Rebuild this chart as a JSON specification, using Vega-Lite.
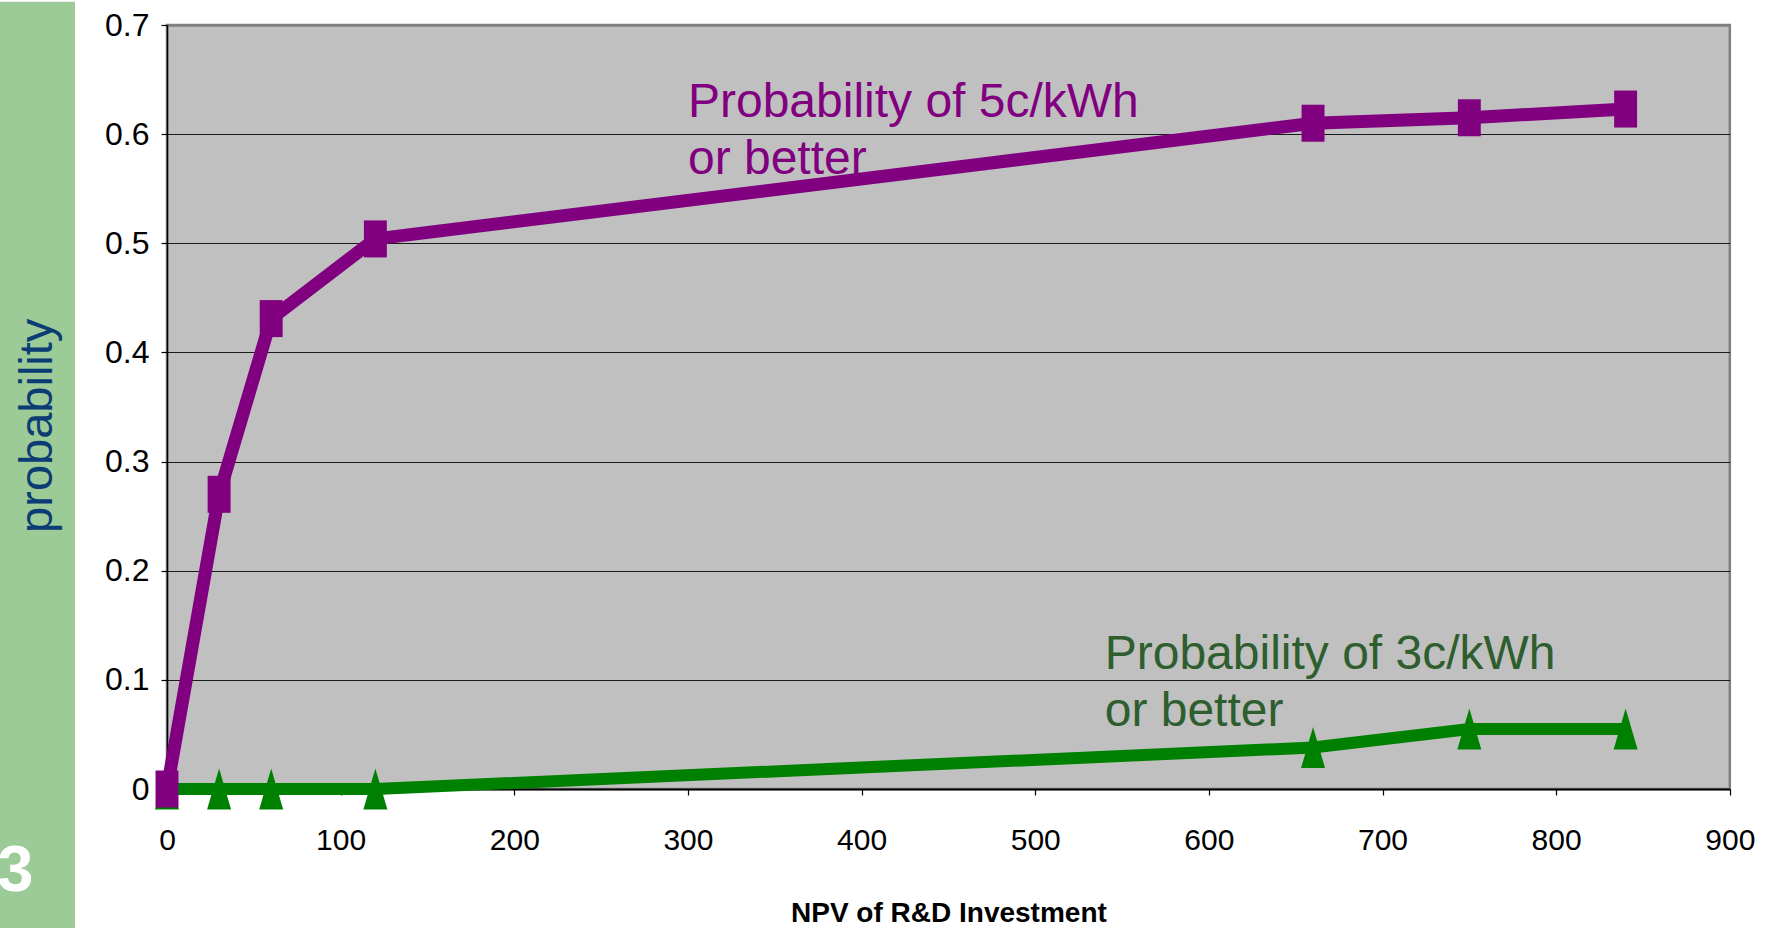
{
  "$schema": "https://vega.github.io/schema/vega-lite/v6.json",
  "background": "white",
  "padding": 0,
  "spacing": 0,
  "resolve": {"scale": {"x": "independent", "y": "independent"}},
  "config": {"view": {"stroke": null}},
  "datasets": {
    "probs": [
      {"npv": 0, "p": 0, "target": "5c"},
      {"npv": 30, "p": 0.27, "target": "5c"},
      {"npv": 60, "p": 0.431, "target": "5c"},
      {"npv": 120, "p": 0.504, "target": "5c"},
      {"npv": 660, "p": 0.61, "target": "5c"},
      {"npv": 750, "p": 0.615, "target": "5c"},
      {"npv": 840, "p": 0.623, "target": "5c"},
      {"npv": 0, "p": 0, "target": "3c"},
      {"npv": 30, "p": 0, "target": "3c"},
      {"npv": 60, "p": 0, "target": "3c"},
      {"npv": 120, "p": 0, "target": "3c"},
      {"npv": 660, "p": 0.038, "target": "3c"},
      {"npv": 750, "p": 0.055, "target": "3c"},
      {"npv": 840, "p": 0.055, "target": "3c"}
    ]
  },
  "hconcat": [
    {
      "width": 75,
      "height": 904.7,
      "view": {"fill": null, "stroke": null},
      "layer": [
        {
          "data": {"values": [{"band": "side"}]},
          "mark": {"type": "rect", "color": "#9CCB98", "clip": false},
          "encoding": {
            "x": {"datum": 0, "type": "quantitative", "scale": {"domain": [0, 1]}, "axis": null},
            "x2": {"datum": 1},
            "y": {"datum": 0, "type": "quantitative", "scale": {"domain": [0, 1]}, "axis": null},
            "y2": {"datum": 1.0258}
          }
        },
        {
          "data": {"values": [{"label": "probability"}]},
          "mark": {"type": "text", "font": "Liberation Sans", "fontSize": 47, "color": "#0B3C73", "angle": 270, "align": "center", "baseline": "alphabetic"},
          "encoding": {
            "x": {"datum": 0.69, "type": "quantitative", "scale": {"domain": [0, 1]}, "axis": null},
            "y": {"datum": 0.557, "type": "quantitative", "scale": {"domain": [0, 1]}, "axis": null},
            "text": {"field": "label"}
          }
        },
        {
          "data": {"values": [{"label": "3"}]},
          "mark": {"type": "text", "font": "Liberation Sans", "fontSize": 65, "fontWeight": "bold", "color": "white", "align": "right", "baseline": "alphabetic", "clip": true},
          "encoding": {
            "x": {"datum": 0.447, "type": "quantitative", "scale": {"domain": [0, 1]}, "axis": null},
            "y": {"datum": 0.0431, "type": "quantitative", "scale": {"domain": [0, 1]}, "axis": null},
            "text": {"field": "label"}
          }
        }
      ]
    },
    {
      "width": 1562.8,
      "height": 764,
      "view": {"fill": "#C0C0C0", "stroke": "#808080", "strokeWidth": 2.5},
      "data": {"name": "probs"},
      "resolve": {"axis": {"x": "independent", "y": "independent"}},
      "layer": [
        {
          "data": {"values": [{"label": "Probability of 5c/kWh\nor better"}]},
          "mark": {"type": "text", "font": "Liberation Sans", "fontSize": 48, "color": "#800080", "align": "left", "baseline": "alphabetic", "lineBreak": "\n", "lineHeight": 57},
          "encoding": {
            "x": {"datum": 300, "type": "quantitative", "scale": {"domain": [0, 900], "nice": false}, "axis": null},
            "y": {"datum": 0.616, "type": "quantitative", "scale": {"domain": [0, 0.7], "nice": false}, "axis": null},
            "text": {"field": "label"}
          }
        },
        {
          "data": {"values": [{"label": "Probability of 3c/kWh\nor better"}]},
          "mark": {"type": "text", "font": "Liberation Sans", "fontSize": 48, "color": "#2E5E2E", "align": "left", "baseline": "alphabetic", "lineBreak": "\n", "lineHeight": 57},
          "encoding": {
            "x": {"datum": 540, "type": "quantitative", "scale": {"domain": [0, 900], "nice": false}, "axis": null},
            "y": {"datum": 0.11, "type": "quantitative", "scale": {"domain": [0, 0.7], "nice": false}, "axis": null},
            "text": {"field": "label"}
          }
        },
        {
          "transform": [{"filter": "datum.target === '3c'"}],
          "mark": {"type": "line", "color": "#008000", "strokeWidth": 12},
          "encoding": {
            "x": {
              "field": "npv", "type": "quantitative",
              "scale": {"domain": [0, 900], "nice": false},
              "axis": {
                "orient": "bottom",
                "values": [0, 100, 200, 300, 400, 500, 600, 700, 800, 900],
                "format": "d",
                "grid": false,
                "domainColor": "#000000", "domainWidth": 2,
                "tickColor": "#000000", "tickSize": 6, "tickWidth": 1.2,
                "labelFont": "Liberation Sans",
                "labelFontSize": 30, "labelColor": "#000000", "labelPadding": 30,
                "labelFlush": false, "labelOverlap": false,
                "title": "NPV of R&D Investment",
                "titleFont": "Liberation Sans",
                "titleFontSize": 28, "titleFontWeight": "bold", "titleColor": "#000000", "titlePadding": 44
              }
            },
            "y": {
              "field": "p", "type": "quantitative",
              "scale": {"domain": [0, 0.7], "nice": false},
              "axis": {
                "orient": "left",
                "values": [0, 0.1, 0.2, 0.3, 0.4, 0.5, 0.6, 0.7],
                "format": ".1~f",
                "grid": true,
                "gridColor": {"condition": {"test": "datum.value >= 0.69", "value": "#808080"}, "value": "#1A1A1A"},
                "gridWidth": {"condition": {"test": "datum.value >= 0.69", "value": 2.5}, "value": 1.2},
                "domainColor": "#000000", "domainWidth": 1.5,
                "tickColor": "#000000", "tickSize": 6, "tickWidth": 1.2,
                "labelFont": "Liberation Sans",
                "labelFontSize": 32, "labelColor": "#000000", "labelPadding": 12,
                "minExtent": 90.5, "maxExtent": 90.5,
                "title": null
              }
            }
          }
        },
        {
          "transform": [{"filter": "datum.target === '3c'"}],
          "mark": {"type": "point", "filled": true, "opacity": 1, "color": "#008000", "shape": "M0,-1L0.585,1L-0.585,1Z", "size": 1681},
          "encoding": {
            "x": {
              "field": "npv", "type": "quantitative",
              "scale": {"domain": [0, 900], "nice": false},
              "axis": {"orient": "top", "labels": false, "ticks": false, "domain": false, "grid": false, "title": null, "minExtent": 23.3, "maxExtent": 23.3}
            },
            "y": {"field": "p", "type": "quantitative", "scale": {"domain": [0, 0.7], "nice": false}, "axis": null}
          }
        },
        {
          "transform": [{"filter": "datum.target === '5c'"}],
          "mark": {"type": "line", "color": "#800080", "strokeWidth": 13},
          "encoding": {
            "x": {"field": "npv", "type": "quantitative", "scale": {"domain": [0, 900], "nice": false}, "axis": null},
            "y": {"field": "p", "type": "quantitative", "scale": {"domain": [0, 0.7], "nice": false}, "axis": null}
          }
        },
        {
          "transform": [{"filter": "datum.target === '5c'"}],
          "mark": {"type": "point", "filled": true, "opacity": 1, "color": "#800080", "shape": "M-0.62,-1L0.62,-1L0.62,1L-0.62,1Z", "size": 1369},
          "encoding": {
            "x": {"field": "npv", "type": "quantitative", "scale": {"domain": [0, 900], "nice": false}, "axis": null},
            "y": {"field": "p", "type": "quantitative", "scale": {"domain": [0, 0.7], "nice": false}, "axis": null}
          }
        }
      ]
    }
  ]
}
